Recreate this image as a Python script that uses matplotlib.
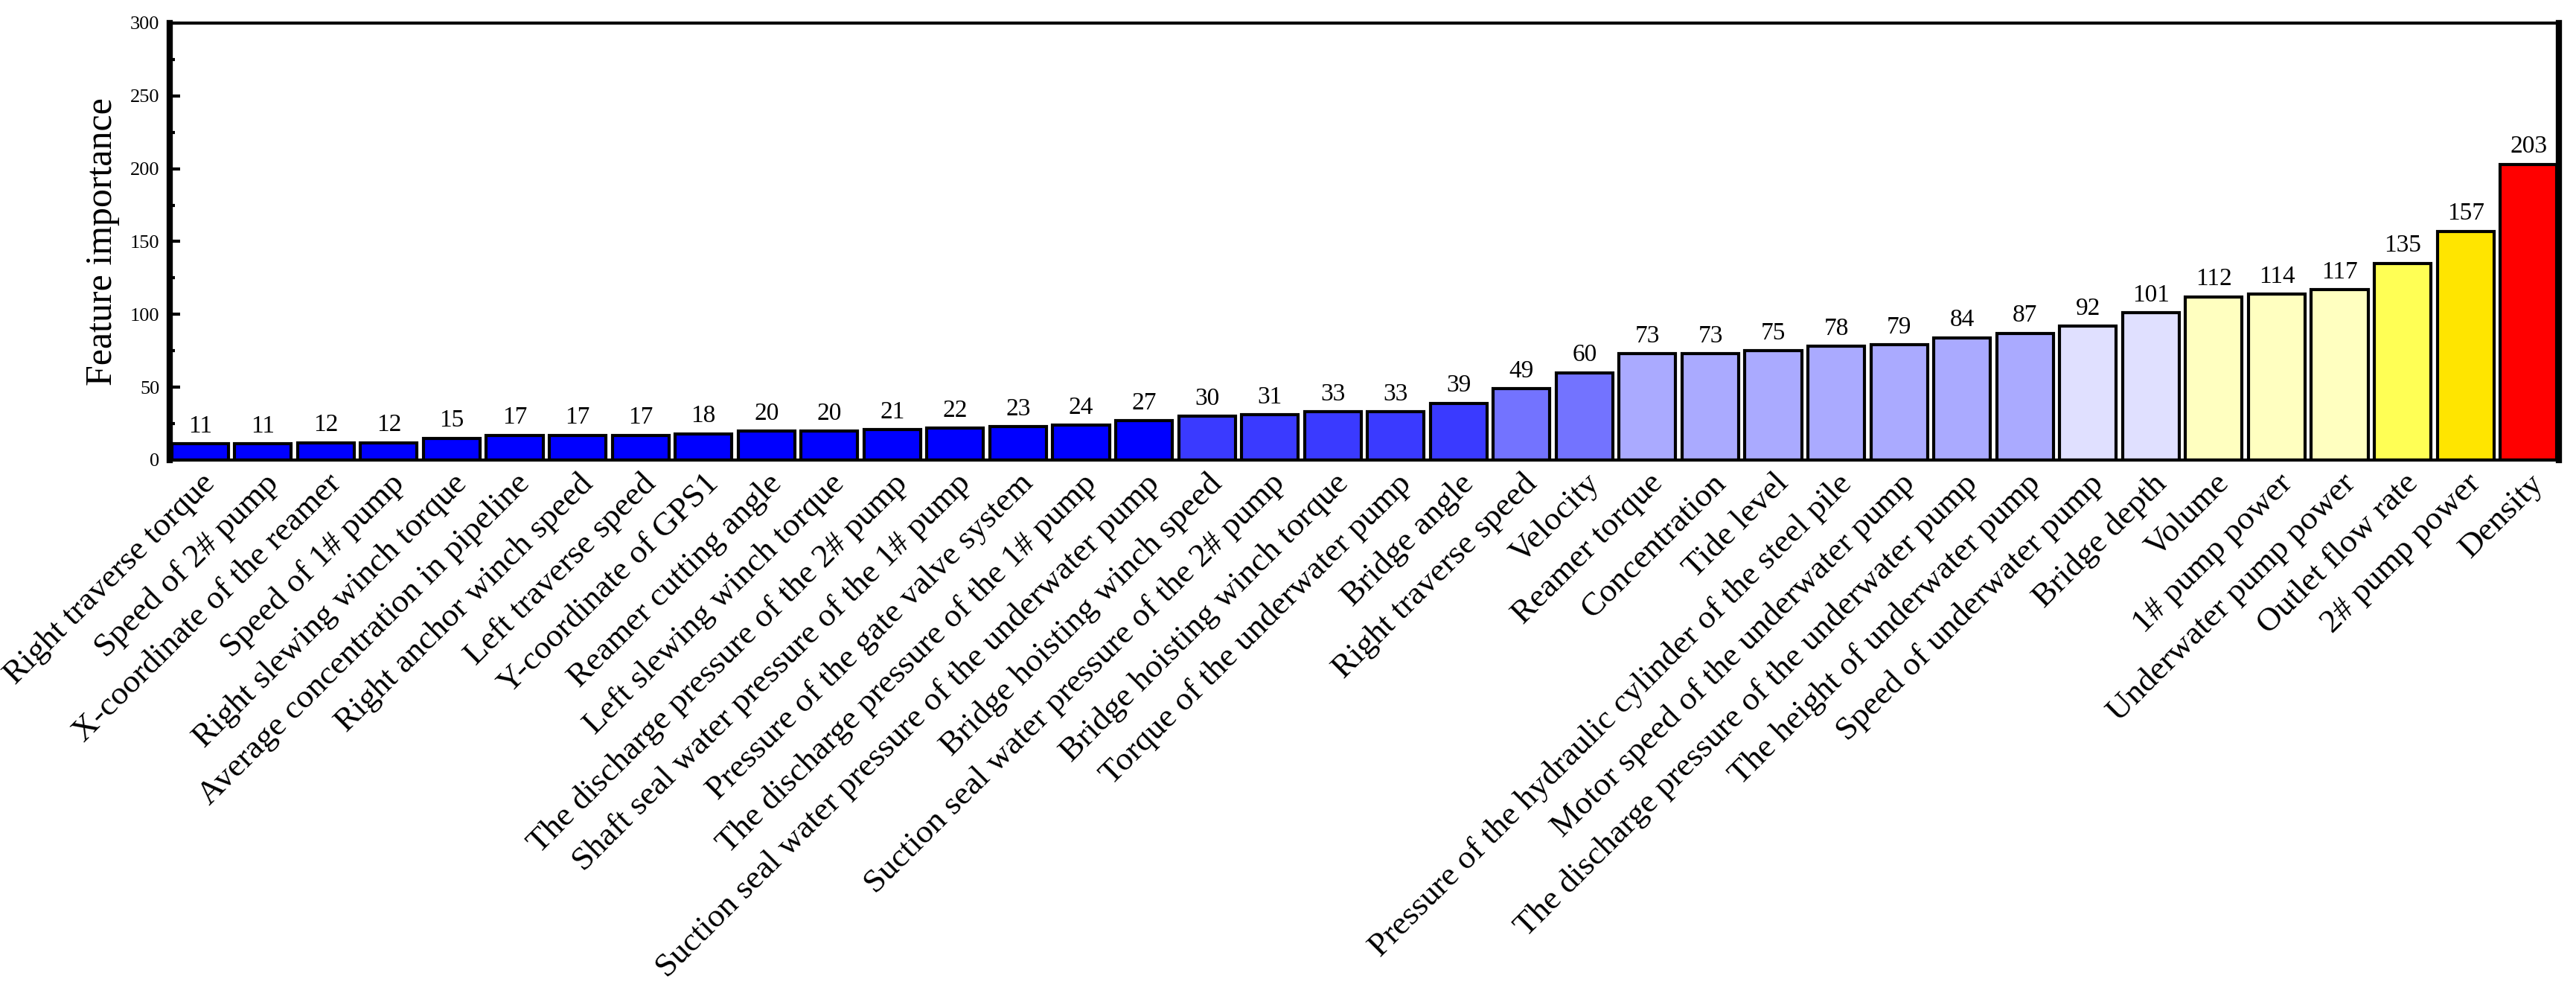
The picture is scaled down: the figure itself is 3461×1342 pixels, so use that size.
import matplotlib
matplotlib.use("Agg")
import matplotlib.pyplot as plt
from matplotlib.ticker import MultipleLocator

features = [
    "Right traverse torque", "Speed of 2# pump", "X-coordinate of the reamer",
    "Speed of 1# pump", "Right slewing winch torque", "Average concentration in pipeline",
    "Right anchor winch speed", "Left traverse speed", "Y-coordinate of GPS1",
    "Reamer cutting angle", "Left slewing winch torque",
    "The discharge pressure of the 2# pump", "Shaft seal water pressure of the 1# pump",
    "Pressure of the gate valve system", "The discharge pressure of the 1# pump",
    "Suction seal water pressure of the underwater pump", "Bridge hoisting winch speed",
    "Suction seal water pressure of the 2# pump", "Bridge hoisting winch torque",
    "Torque of the underwater pump", "Bridge angle", "Right traverse speed", "Velocity",
    "Reamer torque", "Concentration", "Tide level",
    "Pressure of the hydraulic cylinder of the steel pile",
    "Motor speed of the underwater pump", "The discharge pressure of the underwater pump",
    "The height of underwater pump", "Speed of underwater pump", "Bridge depth", "Volume",
    "1# pump power", "Underwater pump power", "Outlet flow rate", "2# pump power", "Density",
]
importance = [11, 11, 12, 12, 15, 17, 17, 17, 18, 20, 20, 21, 22, 23, 24, 27, 30, 31,
              33, 33, 39, 49, 60, 73, 73, 75, 78, 79, 84, 87, 92, 101, 112, 114, 117,
              135, 157, 203]

# colour groups (count, colour)
color_groups = [(16, "#0000FF"), (5, "#3A3AFF"), (2, "#7373FF"), (7, "#AAAAFF"),
                (2, "#E0E0FF"), (3, "#FFFFC0"), (1, "#FFFF55"), (1, "#FFE500"),
                (1, "#FF0000")]
bar_colors = []
for n, c in color_groups:
    bar_colors += [c] * n

plt.rcParams["font.family"] = ["Liberation Serif", "DejaVu Serif"]

fig = plt.figure(figsize=(34.62, 13.42), dpi=100)
ax = fig.add_axes([0.0659, 0.5395, 0.9271, 0.4375])

x = list(range(len(features)))
ax.bar(x, importance, width=0.9, color=bar_colors, edgecolor="black",
       linewidth=3.0, zorder=2)

for xi, v in zip(x, importance):
    ax.annotate(f"{v}", (xi, v), xytext=(0, 6), textcoords="offset points",
                ha="center", va="bottom", fontsize=24)

ax.set_xlim(-0.48, len(features) - 0.52)
ax.set_ylim(0, 300)
ax.yaxis.set_major_locator(MultipleLocator(50))
ax.yaxis.set_minor_locator(MultipleLocator(25))
ax.tick_params(axis="y", which="major", direction="in", length=10, width=3,
               labelsize=19, pad=10)
ax.tick_params(axis="y", which="minor", direction="in", length=5, width=3)
ax.tick_params(axis="x", which="major", direction="in", length=9, width=3, pad=8)

ax.set_xticks(x)
ax.set_xticklabels(features, rotation=45, ha="right", va="top",
                   rotation_mode="anchor", fontsize=32.5)

ax.set_ylabel("Feature importance", fontsize=36, labelpad=10)

for side in ["left", "right"]:
    ax.spines[side].set_linewidth(6)
for side in ["top", "bottom"]:
    ax.spines[side].set_linewidth(3)
for s in ax.spines.values():
    s.set_zorder(3)

fig.savefig("out.png", dpi=100)
